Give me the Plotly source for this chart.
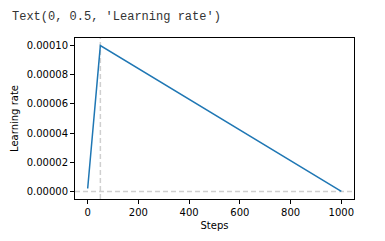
import plotly.graph_objects as go

# Data
steps = [0, 50, 1000]
learning_rate = [2e-6, 1e-4, 0.0]
warmup_step = [50]
baseline_lr = [0.0]
x_ticks = [0, 200, 400, 600, 800, 1000]
y_ticks = [0.0, 0.00002, 0.00004, 0.00006, 0.00008, 0.00010]
y_tick_labels = ["0.00000", "0.00002", "0.00004", "0.00006", "0.00008", "0.00010"]
header_text = "Text(0, 0.5, 'Learning rate')"

fig = go.Figure()
fig.add_trace(go.Scatter(x=steps, y=learning_rate, mode="lines",
                         line=dict(color="#1f77b4", width=1.5), showlegend=False,
                         hoverinfo="skip"))

dash_style = dict(color="#cfcfcf", width=1.5, dash="5px,3px")
for xv in warmup_step:
    fig.add_shape(type="line", xref="x", yref="paper", x0=xv, x1=xv, y0=0, y1=1,
                  line=dash_style, layer="below")
for yv in baseline_lr:
    fig.add_shape(type="line", xref="paper", yref="y", x0=0, x1=1, y0=yv, y1=yv,
                  line=dash_style, layer="below")

axis_common = dict(showgrid=False, zeroline=False, showline=True, linecolor="black",
                   linewidth=1, mirror=True, ticks="outside", ticklen=4, tickwidth=1,
                   tickcolor="black", tickfont=dict(family="DejaVu Sans", size=10, color="black"))

fig.update_xaxes(range=[-50, 1050], tickvals=x_ticks,
                 title=dict(text="Steps", font=dict(family="DejaVu Sans", size=10, color="black"),
                            standoff=4),
                 **axis_common)
fig.update_yaxes(range=[-5.2e-6, 1.052e-4], tickvals=y_ticks, ticktext=y_tick_labels,
                 title=dict(text="Learning rate", font=dict(family="DejaVu Sans", size=10, color="black"),
                            standoff=6),
                 **axis_common)

fig.add_annotation(text=header_text, xref="paper", yref="paper", x=-65/279, y=1 + 21/163,
                   xanchor="left", yanchor="middle", showarrow=False,
                   font=dict(family="Liberation Mono", size=12, color="#333333"))

fig.update_layout(width=385, height=241, margin=dict(l=75, r=31, t=38, b=40),
                  paper_bgcolor="white", plot_bgcolor="white")

fig.write_html("out.html")
